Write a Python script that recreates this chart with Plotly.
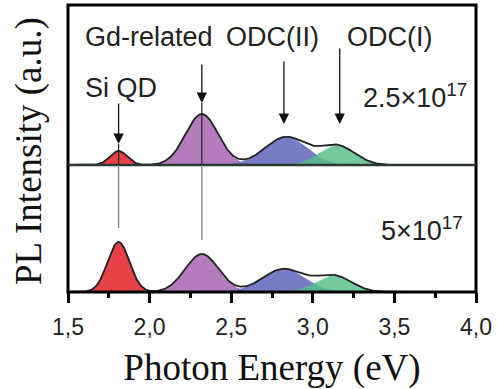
import numpy as np
import plotly.graph_objects as go

# ---- data ----
component_names = ["Si QD", "Gd-related", "ODC(II)", "ODC(I)"]
component_colors = ["rgba(230,46,52,0.90)", "rgba(172,110,182,0.90)",
                    "rgba(100,106,190,0.88)", "rgba(84,192,136,0.82)"]

# upper spectrum: 2.5x10^17
upper_centers = [1.81, 2.32, 2.835, 3.15]
upper_sigmas = [0.053, 0.100, 0.128, 0.108]
upper_amps = [0.28, 1.02, 0.56, 0.38]

# lower spectrum: 5x10^17
lower_centers = [1.81, 2.32, 2.82, 3.13]
lower_sigmas = [0.067, 0.102, 0.128, 0.108]
lower_amps = [1.00, 0.76, 0.46, 0.32]

tick_vals = [1.5, 2.0, 2.5, 3.0, 3.5, 4.0]
tick_text = ["1,5", "2,0", "2,5", "3,0", "3,5", "4,0"]

energy = np.linspace(1.5, 4.0, 600)


def gauss(c, s, a):
    return a * np.exp(-0.5 * ((energy - c) / s) ** 2)


fig = go.Figure()

for centers, sigmas, amps, yax in [(upper_centers, upper_sigmas, upper_amps, "y2"),
                                   (lower_centers, lower_sigmas, lower_amps, "y")]:
    total = np.zeros_like(energy)
    for name, col, c, s, a in zip(component_names, component_colors, centers, sigmas, amps):
        g = gauss(c, s, a)
        total += g
        fig.add_trace(go.Scatter(x=energy, y=g, mode="lines", fill="tozeroy",
                                 fillcolor=col, line=dict(color=col, width=0.8),
                                 yaxis=yax, showlegend=False, hoverinfo="skip"))
    fig.add_trace(go.Scatter(x=energy, y=total, mode="lines",
                             line=dict(color="#222", width=1.8),
                             yaxis=yax, showlegend=False, hoverinfo="skip"))

split = 127 / 287

fig.update_layout(
    width=497, height=389,
    margin=dict(l=68, r=18, t=5, b=97),
    paper_bgcolor="white", plot_bgcolor="white",
    showlegend=False,
    xaxis=dict(range=[1.5, 4.0], tickmode="array", tickvals=tick_vals, ticktext=tick_text,
               ticks="outside", ticklen=10, tickwidth=2.5, tickcolor="black",
               ticklabelstandoff=4,
               minor=dict(ticks="outside", dtick=0.25, tick0=1.5, ticklen=5,
                          tickwidth=2.5, tickcolor="black"),
               showgrid=False, zeroline=False, showline=False, anchor="y",
               tickfont=dict(family="Liberation Sans, Arial", size=23, color="#222"),
               title=dict(text="Photon Energy (eV)", standoff=15,
                          font=dict(family="Liberation Serif, Times New Roman", size=37,
                                    color="#111"))),
    yaxis=dict(domain=[0, split], range=[0, 2.54], showticklabels=False, ticks="",
               showgrid=False, zeroline=False, anchor="x"),
    yaxis2=dict(domain=[split, 1], range=[0, 3.2], showticklabels=False, ticks="",
                showgrid=False, zeroline=False, anchor="x"),
)

# frame and divider
fig.add_shape(type="rect", xref="paper", yref="paper", x0=0, x1=1, y0=0, y1=1,
              line=dict(color="black", width=3), layer="above")
fig.add_shape(type="line", xref="paper", yref="paper", x0=0, x1=1, y0=split, y1=split,
              line=dict(color="#2c3a32", width=2.5), layer="above")

# arrows in upper panel
arrows = [(1.81, 0.42, 1.26), (2.32, 1.24, 2.04), (2.823, 0.82, 2.10), (3.165, 0.82, 2.36)]
for x, tip, tail in arrows:
    fig.add_annotation(x=x, y=tip, ax=x, ay=tail, xref="x", yref="y2", axref="x", ayref="y2",
                       text="", showarrow=True, arrowhead=2, arrowsize=1.6,
                       arrowwidth=1.3, arrowcolor="#111")

# guide lines continuing through peaks into the lower panel
for x, tip_p, end_p in [(1.81, (292 - 144) / 287, (292 - 228) / 287),
                        (2.32, (292 - 103) / 287, (292 - 240) / 287)]:
    fig.add_shape(type="line", xref="x", yref="paper", x0=x, x1=x, y0=tip_p, y1=split,
                  line=dict(color="#222", width=1.2), layer="above")
    fig.add_shape(type="line", xref="x", yref="paper", x0=x, x1=x, y0=split, y1=end_p,
                  line=dict(color="#888", width=1.4), layer="above")

lab_font = dict(family="Liberation Sans, Arial", size=27, color="#222")
labels = [("Gd-related", 1.994, (292 - 37) / 287),
          ("ODC(II)", 2.756, (292 - 37) / 287),
          ("ODC(I)", 3.47, (292 - 37) / 287),
          ("Si QD", 1.823, (292 - 88) / 287)]
for t, x, y in labels:
    fig.add_annotation(x=x, y=y, xref="x", yref="paper", text=t, showarrow=False,
                       font=lab_font, xanchor="center", yanchor="middle")

fig.add_annotation(x=3.96, y=(292 - 96) / 287, xref="x", yref="paper",
                   text="2.5×10<sup>17</sup>", showarrow=False, font=lab_font,
                   xanchor="right", yanchor="middle")
fig.add_annotation(x=3.93, y=(292 - 229) / 287, xref="x", yref="paper",
                   text="5×10<sup>17</sup>", showarrow=False, font=lab_font,
                   xanchor="right", yanchor="middle")

fig.add_annotation(x=-0.094, y=0.49, xref="paper", yref="paper",
                   text="PL Intensity (a.u.)", textangle=-90, showarrow=False,
                   font=dict(family="Liberation Serif, Times New Roman", size=37, color="#111"),
                   xanchor="center", yanchor="middle")

fig.write_html("out.html")
